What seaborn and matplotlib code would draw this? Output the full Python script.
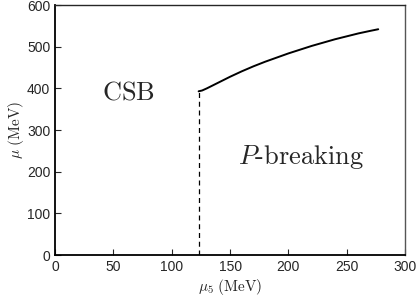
import matplotlib
matplotlib.use("Agg")
import matplotlib.pyplot as plt
import seaborn as sns
import pandas as pd

# phase boundary (MeV)
mu5 = [123, 126, 130, 140, 150, 160, 170, 180, 190, 200, 210, 220, 230, 240, 250, 260, 270, 277]
mu = [393, 395, 400, 414, 428, 441, 453, 464, 474, 484, 493, 502, 510, 518, 525, 532, 538, 542]
mu5_crit = 123

sns.set_style("ticks")
plt.rcParams['mathtext.fontset'] = 'cm'
plt.rcParams['font.family'] = ['Liberation Sans', 'DejaVu Sans']

df = pd.DataFrame({'mu5': mu5, 'mu': mu})

fig, ax = plt.subplots(figsize=(4.18, 2.99), dpi=100)
sns.lineplot(data=df, x='mu5', y='mu', color='black', lw=1.4, ax=ax)
ax.plot([mu5_crit, mu5_crit], [0, mu[0]], color='black', lw=0.9, ls=(0, (4, 3)))

ax.set_xlim(0, 300)
ax.set_ylim(0, 600)
ax.set_xticks(range(0, 301, 50))
ax.set_yticks(range(0, 601, 100))
ax.tick_params(direction='in', labelsize=10, length=4, top=False, right=False)

for s in ['left', 'bottom']:
    ax.spines[s].set_linewidth(1.3)
    ax.spines[s].set_color('black')
ax.spines['top'].set_linewidth(1.0)
ax.spines['right'].set_linewidth(1.0)
ax.spines['right'].set_color('#555555')

ax.set_xlabel(r'$\mu_5$ $\mathrm{(MeV)}$', fontsize=11, labelpad=2)
ax.set_ylabel(r'$\mu$ $\mathrm{(MeV)}$', fontsize=11, labelpad=1)

ax.text(63, 391, r'$\mathrm{CSB}$', fontsize=19, ha='center', va='center')
ax.text(211, 236, r'$P\mathrm{\text{-}breaking}$', fontsize=19, ha='center', va='center')

fig.subplots_adjust(left=0.132, right=0.969, top=0.983, bottom=0.147)
fig.savefig('out.png', dpi=100)
